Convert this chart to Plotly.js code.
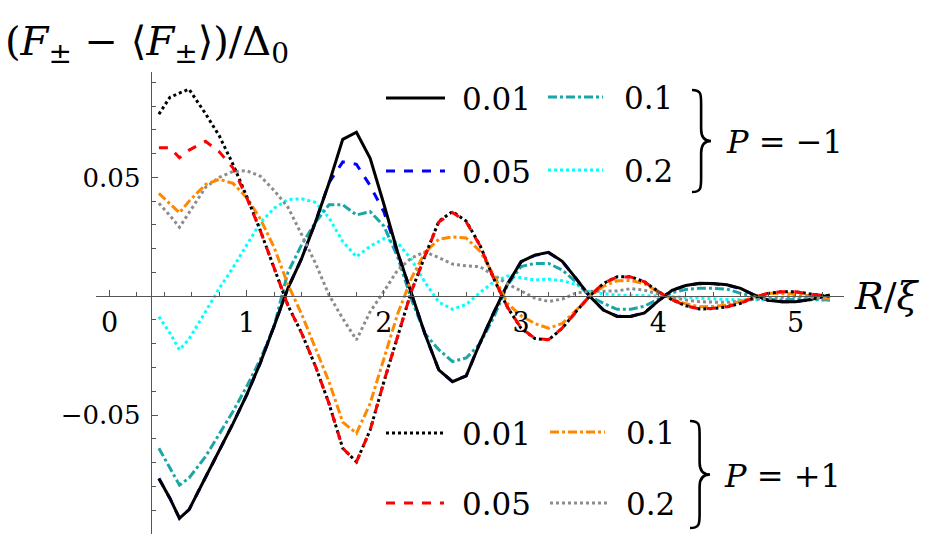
<!DOCTYPE html>
<html>
<head>
<meta charset="utf-8">
<script src="https://cdn.plot.ly/plotly-3.0.1.min.js"></script>
<style>html,body{margin:0;padding:0;background:#fff;}#plot{width:933px;height:540px;}</style>
</head>
<body>
<div id="plot"></div>
<script>
// ---- data ----
const R = [0.36,0.44,0.51,0.58,0.7,0.8,0.9,1.0,1.1,1.2,1.3,1.4,1.5,1.6,1.7,1.8,1.9,2.0,2.1,2.2,2.3,2.4,2.5,2.6,2.7,2.8,2.9,3.0,3.1,3.2,3.3,3.4,3.5,3.6,3.7,3.8,3.9,4.0,4.1,4.2,4.3,4.4,4.5,4.6,4.7,4.8,4.9,5.0,5.1,5.25];

// P = -1
const m1_001 = [-0.0767,-0.085,-0.0935,-0.0898,-0.0762,-0.065,-0.0536,-0.0415,-0.028,-0.0125,0.0033,0.0158,0.031,0.0476,0.066,0.069,0.058,0.0387,0.0185,0.0013,-0.016,-0.031,-0.036,-0.0335,-0.0197,-0.007,0.005,0.0145,0.0173,0.0185,0.0147,0.0075,0.0,-0.0058,-0.0085,-0.0085,-0.007,-0.002,0.0025,0.0045,0.0054,0.0053,0.0048,0.0033,0.0005,-0.0017,-0.0023,-0.0023,-0.0015,0.0005];
const m1_005 = [-0.0767,-0.085,-0.0935,-0.0898,-0.0762,-0.065,-0.0536,-0.0415,-0.028,-0.0125,0.0033,0.0158,0.031,0.0478,0.0565,0.0555,0.0465,0.0355,0.0185,0.0013,-0.016,-0.031,-0.036,-0.0335,-0.0197,-0.007,0.005,0.0145,0.0172,0.0183,0.0146,0.0075,0.0,-0.0058,-0.0084,-0.0084,-0.0069,-0.002,0.0025,0.0045,0.0053,0.0052,0.0047,0.0032,0.0005,-0.0017,-0.0023,-0.0023,-0.0015,0.0005];
const m1_01 = [-0.064,-0.072,-0.0795,-0.0765,-0.0675,-0.058,-0.0485,-0.038,-0.0265,-0.0125,0.010,0.0216,0.031,0.0385,0.0385,0.0342,0.0356,0.0295,0.0165,-0.0013,-0.0158,-0.0225,-0.0275,-0.026,-0.020,-0.009,0.0045,0.0125,0.0138,0.0138,0.011,0.006,0.0,-0.003,-0.0055,-0.0055,-0.0042,-0.0012,0.0015,0.0028,0.0033,0.0033,0.003,0.0012,0.0,-0.0013,-0.0016,-0.0012,-0.0012,-0.0016];
const m1_02 = [-0.0086,-0.0155,-0.0226,-0.018,-0.0065,0.0033,0.012,0.0215,0.031,0.037,0.0407,0.041,0.0395,0.033,0.023,0.0166,0.021,0.0242,0.0225,0.0155,0.0058,-0.0025,-0.0055,-0.0035,0.0015,0.006,0.0085,0.0078,0.0068,0.0072,0.0065,0.005,0.0019,0.001,0.0005,0.0004,0.0003,0.0001,-0.0002,-0.0005,-0.0009,-0.0012,-0.0014,-0.0015,-0.0016,-0.0016,-0.0016,-0.0016,-0.0016,-0.0016];

// P = +1
const p1_001 = [0.0766,0.0837,0.0855,0.0871,0.0768,0.0675,0.0555,0.042,0.0275,0.0115,-0.0038,-0.0155,-0.0293,-0.0452,-0.064,-0.0697,-0.0563,-0.036,-0.017,0.002,0.017,0.0315,0.0356,0.0316,0.0215,0.0075,-0.0046,-0.0135,-0.0178,-0.0184,-0.0135,-0.0065,0.0,0.0054,0.0082,0.0082,0.006,0.002,-0.0015,-0.004,-0.0054,-0.0052,-0.0045,-0.003,-0.0005,0.0012,0.0019,0.0019,0.001,0.0];
const p1_005 = [0.0625,0.0625,0.0583,0.0615,0.0652,0.0608,0.054,0.0415,0.0275,0.0115,-0.0038,-0.0155,-0.0293,-0.0452,-0.064,-0.0697,-0.0563,-0.036,-0.017,0.002,0.017,0.0312,0.0352,0.0313,0.0213,0.0075,-0.0046,-0.0134,-0.0177,-0.0183,-0.0134,-0.0065,0.0,0.0054,0.0081,0.0081,0.006,0.002,-0.0015,-0.004,-0.0053,-0.0051,-0.0044,-0.003,-0.0005,0.0012,0.0019,0.0019,0.001,0.0];
const p1_01 = [0.0433,0.039,0.0351,0.040,0.047,0.0492,0.0475,0.0415,0.0325,0.0205,0.005,-0.0075,-0.022,-0.036,-0.053,-0.0577,-0.0451,-0.026,-0.0075,0.0075,0.0185,0.024,0.025,0.0245,0.019,0.0089,-0.003,-0.0082,-0.0115,-0.0135,-0.0115,-0.006,0.0,0.0042,0.0065,0.0066,0.0052,0.0018,-0.0012,-0.0032,-0.0044,-0.0043,-0.0038,-0.0022,-0.0003,0.0012,0.0012,0.001,0.0002,-0.001];
const p1_02 = [0.0391,0.034,0.029,0.035,0.0458,0.050,0.0525,0.0528,0.0505,0.0445,0.0375,0.026,0.014,0.0005,-0.0094,-0.0184,-0.0065,0.002,0.011,0.016,0.0187,0.0162,0.0135,0.0128,0.0124,0.0089,0.0052,0.0022,-0.0008,-0.0022,-0.0012,0.0013,0.0021,0.0021,0.0022,0.0032,0.0025,0.001,-0.0005,-0.0016,-0.0023,-0.0025,-0.0026,-0.002,-0.0013,-0.001,-0.0005,0.0,-0.0005,-0.0016];

const LABELS = ['0.01','0.05','0.1','0.2'];
const X_TICK0 = 0, X_DTICK = 1;
const Y_TICKS = [-0.05, 0.05];
const Y_TICK_TEXT = ['\u22120.05', '0.05'];

// ---- styles ----
const SERIF = 'DejaVu Serif';
const ST = {
  m1_001: {color:'#000000', width:3, dash:'solid'},
  m1_005: {color:'#0000ff', width:3, dash:'dash'},
  m1_01:  {color:'#1aa6a6', width:3, dash:'dashdot'},
  m1_02:  {color:'#00ffff', width:3, dash:'dot'},
  p1_001: {color:'#000000', width:3, dash:'dot'},
  p1_005: {color:'#ff0000', width:3, dash:'dash'},
  p1_01:  {color:'#ff8800', width:3, dash:'dashdot'},
  p1_02:  {color:'#8c8c8c', width:3, dash:'dot'}
};

function tr(y, key, name) {
  return {x: R, y: y, type:'scatter', mode:'lines', name: name, line: ST[key], showlegend:false, hoverinfo:'skip'};
}
const data = [
  tr(m1_02,'m1_02','P=-1, '+LABELS[3]),
  tr(m1_01,'m1_01','P=-1, '+LABELS[2]),
  tr(m1_005,'m1_005','P=-1, '+LABELS[1]),
  tr(m1_001,'m1_001','P=-1, '+LABELS[0]),
  tr(p1_02,'p1_02','P=+1, '+LABELS[3]),
  tr(p1_01,'p1_01','P=+1, '+LABELS[2]),
  tr(p1_001,'p1_001','P=+1, '+LABELS[0]),
  tr(p1_005,'p1_005','P=+1, '+LABELS[1])
];

// ---- layout geometry (pixels -> paper) ----
const ML = 96, MR = 89, MT = 72, MB = 6;
const PW = 933 - ML - MR, PH = 540 - MT - MB;
const fx = p => (p - ML) / PW;
const fy = p => (MT + PH - p) / PH;
const XR = [-0.0984, 5.3535], YR = [-0.10008, 0.09436];
const xPos = (0 - YR[0]) / (YR[1] - YR[0]);      // x-axis crosses at y = 0
const yPos = (0.3 - XR[0]) / (XR[1] - XR[0]);    // y-axis crosses at x = 0.3

const shapes = [], annotations = [];
function legendItem(key, x0, x1, y, label, tx) {
  shapes.push({type:'line', xref:'paper', yref:'paper', x0:fx(x0), x1:fx(x1), y0:fy(y), y1:fy(y), line: ST[key]});
  annotations.push({xref:'paper', yref:'paper', x:fx(tx), y:fy(y+1), xanchor:'left', yanchor:'middle', text:label, showarrow:false, font:{family:SERIF, size:31, color:'#000'}});
}
function brace(xl, xr, yTop, yBot) {
  const xm = xl + (xr - xl) * 0.48, ym = (yTop + yBot) / 2;
  const P = (x, y) => fx(x).toFixed(5) + ',' + fy(y).toFixed(5);
  const d = 'M' + P(xl, yTop) +
    ' C' + P(xm, yTop) + ' ' + P(xm, yTop + 4) + ' ' + P(xm, yTop + 14) +
    ' L' + P(xm, ym - 12) +
    ' C' + P(xm, ym - 4) + ' ' + P(xm + 3, ym) + ' ' + P(xr, ym) +
    ' C' + P(xm + 3, ym) + ' ' + P(xm, ym + 4) + ' ' + P(xm, ym + 12) +
    ' L' + P(xm, yBot - 14) +
    ' C' + P(xm, yBot - 4) + ' ' + P(xm, yBot) + ' ' + P(xl, yBot);
  shapes.push({type:'path', xref:'paper', yref:'paper', path:d, line:{color:'#000', width:2.6}});
}

// P = -1 legend
legendItem('m1_001', 386, 445, 98, LABELS[0], 460);
legendItem('m1_01', 548, 603, 97, LABELS[2], 622);
legendItem('m1_005', 386, 445, 171, LABELS[1], 460);
legendItem('m1_02', 548, 603, 170, LABELS[3], 622);
brace(692, 711, 90, 192);
annotations.push({xref:'paper', yref:'paper', x:fx(724), y:fy(142), xanchor:'left', yanchor:'middle', text:'<i>P</i> = \u22121', showarrow:false, font:{family:SERIF, size:32, color:'#000'}});

// P = +1 legend
legendItem('p1_001', 386, 444, 433, LABELS[0], 460);
legendItem('p1_01', 550, 605, 432, LABELS[2], 624);
legendItem('p1_005', 386, 444, 503, LABELS[1], 460);
legendItem('p1_02', 550, 607, 503, LABELS[3], 624);
brace(690, 710, 421, 528);
annotations.push({xref:'paper', yref:'paper', x:fx(722), y:fy(476), xanchor:'left', yanchor:'middle', text:'<i>P</i> = +1', showarrow:false, font:{family:SERIF, size:32, color:'#000'}});

// axis labels
annotations.push({xref:'paper', yref:'paper', x:fx(3), y:fy(44), xanchor:'left', yanchor:'middle',
  text:'(<i>F</i><sub>\u00b1</sub> \u2212 \u27e8<i>F</i><sub>\u00b1</sub>\u27e9)/\u0394<sub>0</sub>', showarrow:false,
  font:{family:SERIF, size:40, color:'#000'}});
annotations.push({xref:'paper', yref:'paper', x:fx(852), y:fy(296), xanchor:'left', yanchor:'middle',
  text:'<i>R</i>/<i>\u03be</i>', showarrow:false, font:{family:SERIF, size:38, color:'#000'}});

const AX = '#555';
const layout = {
  width:933, height:540,
  margin:{l:ML, r:MR, t:MT, b:MB, pad:0},
  paper_bgcolor:'#fff', plot_bgcolor:'#fff',
  showlegend:false,
  font:{family:SERIF, color:'#000'},
  xaxis:{range:XR, anchor:'free', position:xPos, showline:true, linecolor:AX, linewidth:1,
    zeroline:false, showgrid:false, ticks:'inside', ticklen:6, tickcolor:AX, tickwidth:1,
    tickmode:'linear', tick0:X_TICK0, dtick:X_DTICK, ticklabelstandoff:2,
    tickfont:{family:SERIF, size:27, color:'#000'},
    minor:{ticks:'inside', tickmode:'linear', tick0:0, dtick:0.2, ticklen:4, tickcolor:AX, showgrid:false}},
  yaxis:{range:YR, anchor:'free', position:yPos, showline:true, linecolor:AX, linewidth:1,
    zeroline:false, showgrid:false, ticks:'inside', ticklen:6, tickcolor:AX, tickwidth:1,
    tickmode:'array', tickvals:Y_TICKS, ticktext:Y_TICK_TEXT, ticklabelstandoff:5,
    tickfont:{family:SERIF, size:26, color:'#000'},
    minor:{ticks:'inside', tickmode:'linear', tick0:0, dtick:0.01, ticklen:4, tickcolor:AX, showgrid:false}},
  shapes:shapes,
  annotations:annotations
};

Plotly.newPlot('plot', data, layout, {staticPlot:true, displayModeBar:false});
</script>
</body>
</html>
